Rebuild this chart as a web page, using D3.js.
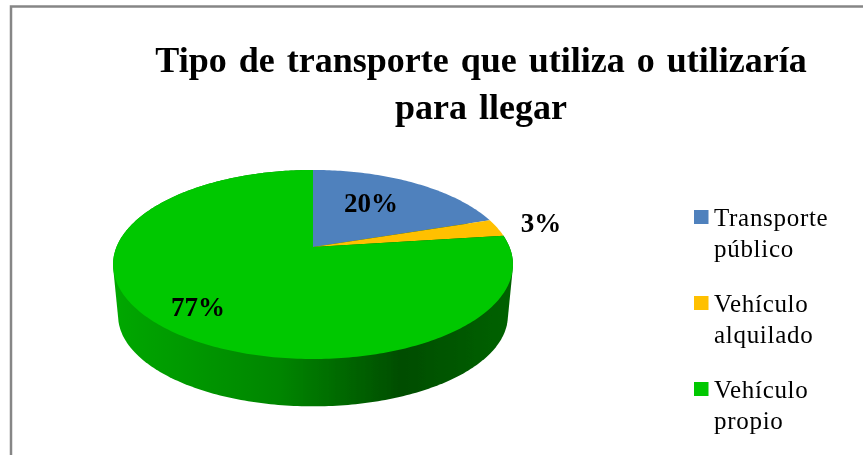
<!DOCTYPE html>
<html>
<head>
<meta charset="utf-8">
<script src="https://cdn.jsdelivr.net/npm/d3@7/dist/d3.min.js"></script>
<style>
  html, body { margin: 0; padding: 0; background: #fff; }
  svg { display: block; }
  text { font-family: "Liberation Serif", serif; fill: #000; }
</style>
</head>
<body>
<script>

var categories = ['Transporte público', 'Vehículo alquilado', 'Vehículo propio'];
var values = [20, 3, 77];
var colors = ['#4f81bd', '#ffc000', '#00c800'];
var legendLines = [['Transporte', 'público'], ['Vehículo', 'alquilado'], ['Vehículo', 'propio']];
var titleLines = ['Tipo de transporte que utiliza o utilizaría', 'para llegar'];

var width = 863;
var height = 455;

var root = d3.select('body').append('svg')
  .attr('width', width)
  .attr('height', height);

var defs = root.append('defs');

// the reference is a slightly soft screenshot
defs.append('filter')
  .attr('id', 'soft')
  .append('feGaussianBlur')
  .attr('stdDeviation', 0.4);

var svg = root.append('g').attr('filter', 'url(#soft)');

// frame, only top and left are in the shot
svg.append('path')
  .attr('d', 'M11,460V6.5H870')
  .style('fill', 'none')
  .style('stroke', '#868686')
  .style('stroke-width', 2.5);

svg.append('g').selectAll('text')
  .data(titleLines)
  .enter()
  .append('text')
  .attr('x', 481)
  .attr('y', function (d, i) { return 72 + i * 47; })
  .attr('text-anchor', 'middle')
  .style('font-size', '36px')
  .style('font-weight', 'bold')
  .style('word-spacing', '3px')
  .text(function (d) { return d; });

var grad = defs.append('linearGradient')
  .attr('id', 'side')
  .attr('gradientUnits', 'userSpaceOnUse')
  .attr('x1', 112).attr('x2', 513)
  .attr('y1', 0).attr('y2', 0);
grad.append('stop').attr('offset', 0).attr('stop-color', '#00a800');
grad.append('stop').attr('offset', 0.42).attr('stop-color', '#008500');
grad.append('stop').attr('offset', 0.72).attr('stop-color', '#004d00');
grad.append('stop').attr('offset', 1).attr('stop-color', '#006200');

// tilted disc with a bit of perspective: the apex sits above the ellipse centre
var cx = 313, apexY = 247, k = 0.185;
function topPoint (a) {
  var w = 1 - k * -Math.cos(a);
  return [cx + 196.5 * Math.sin(a) / w, apexY + 91.3 * -Math.cos(a) / w];
}
function bottomPoint (a) {
  var w = 1 - k * -Math.cos(a);
  return [cx + 191.5 * Math.sin(a) / w, apexY + 47 + 87.5 * -Math.cos(a) / w + 5];
}

var arcs = d3.pie().sort(null)(values);

function rim (d, fn) {
  var n = Math.ceil((d.endAngle - d.startAngle) * 60);
  return d3.range(n + 1).map(function (i) {
    return fn(d.startAngle + (d.endAngle - d.startAngle) * i / n);
  });
}

// wall of the big slice, the other two are at the back
var big = arcs[2];
var hull = d3.polygonHull(rim(big, topPoint).concat(rim(big, bottomPoint)));
svg.append('path')
  .attr('d', 'M' + hull.join('L') + 'Z')
  .style('fill', 'url(#side)');

svg.append('g').selectAll('path')
  .data(arcs)
  .enter()
  .append('path')
  .attr('d', function (d) {
    return 'M' + [cx, apexY] + 'L' + rim(d, topPoint).join('L') + 'Z';
  })
  .style('fill', function (d, i) { return colors[i]; });

var labelPos = [[371, 212], [541, 232], [198, 316]];
svg.append('g').selectAll('text')
  .data(values)
  .enter()
  .append('text')
  .attr('x', function (d, i) { return labelPos[i][0]; })
  .attr('y', function (d, i) { return labelPos[i][1]; })
  .attr('text-anchor', 'middle')
  .style('font-size', '27px')
  .style('font-weight', 'bold')
  .text(function (d) { return d + '%'; });

var legend = svg.append('g').selectAll('g')
  .data(categories)
  .enter()
  .append('g')
  .attr('transform', function (d, i) { return 'translate(694,' + (210 + i * 86) + ')'; });

legend.append('rect')
  .attr('width', 14.5)
  .attr('height', 14)
  .style('fill', function (d, i) { return colors[i]; });

legend.each(function (d, i) {
  d3.select(this).selectAll('text')
    .data(legendLines[i])
    .enter()
    .append('text')
    .attr('x', 20)
    .attr('y', function (l, j) { return 16 + j * 31; })
    .style('font-size', '25px')
    .style('letter-spacing', '0.7px')
    .text(function (l) { return l; });
});

</script>
</body>
</html>
